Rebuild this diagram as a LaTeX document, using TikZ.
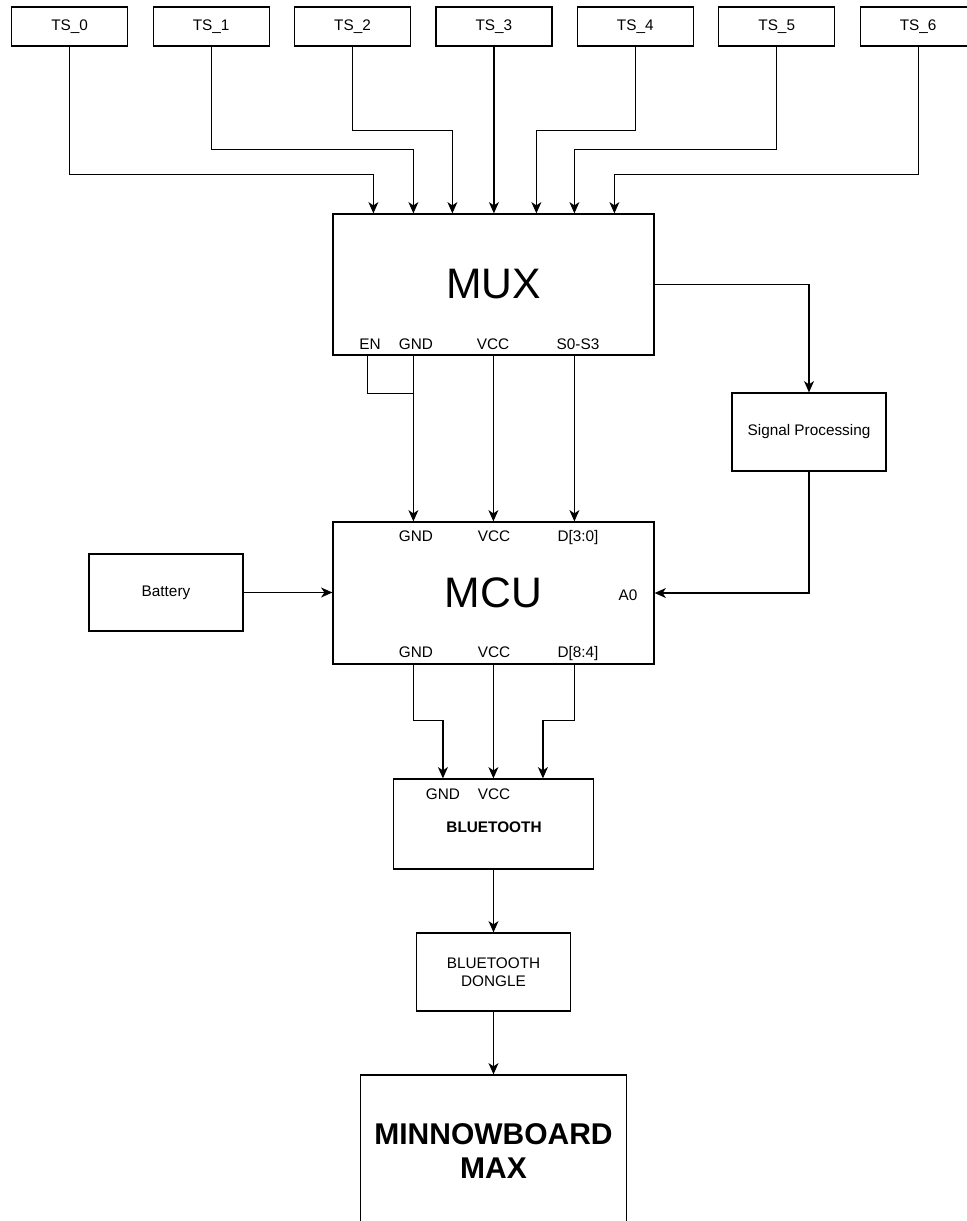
\documentclass[tikz,border=0pt]{standalone}
\usepackage{fontspec}
\setmainfont{Liberation Sans}
\usetikzlibrary{arrows.meta,calc}
\begin{document}
\begin{tikzpicture}[x=0.75pt,y=-0.75pt,
 box/.style={draw,line width=0.9pt,inner sep=0pt,align=center,font=\fontsize{11.5}{13.5}\selectfont},
 lbl/.style={inner sep=0pt,anchor=base,font=\fontsize{11.5}{13.5}\selectfont},
 arr/.style={line width=0.9pt,-{Stealth[length=8.5pt,width=7.5pt,inset=2.5pt]}},
 wire/.style={line width=0.9pt}]
\useasboundingbox (0,0) rectangle (967,1221);
\clip (0,0) rectangle (967,1221);
% sensor boxes
\foreach \i in {0,...,6}
  \node[box,minimum width=87pt,minimum height=29.25pt] (ts\i) at ({69.7+141.4*\i},26.5) {TS\_\i};
% main blocks
\node[box,minimum width=240.75pt,minimum height=105.75pt,font=\fontsize{32}{36}\selectfont] (mux) at (493.5,284.5) {MUX};
\node[box,minimum width=240.75pt,minimum height=106.5pt,font=\fontsize{32}{36}\selectfont] (mcu) at (493.5,593) {MCU};
\node[box,minimum width=115.5pt,minimum height=58.5pt] (sp) at (809,432) {Signal Processing};
\node[box,minimum width=115.5pt,minimum height=57.75pt] (bat) at (166,592.5) {Battery};
\node[box,minimum width=150pt,minimum height=67.5pt] (bt) at (493.5,824) {};
\node[box,minimum width=115.5pt,minimum height=58.5pt] (dongle) at (493.5,972) {BLUETOOTH\\DONGLE};
\node[box,minimum width=199.5pt,minimum height=114pt,font=\fontsize{22.5}{25.5}\selectfont\bfseries] (minnow) at (493.5,1151) {MINNOWBOARD\\MAX};
% port labels
\node[lbl] (muxen) at (370,349.5) {EN};
\node[lbl] (muxgnd) at (416,349.5) {GND};
\node[lbl] (muxvcc) at (493,349.5) {VCC};
\node[lbl] (muxsel) at (578,349.5) {S0-S3};
\node[lbl] (mcugnd1) at (416,541.5) {GND};
\node[lbl] (mcuvcc1) at (494,541.5) {VCC};
\node[lbl] (mcud1) at (578,541.5) {D[3:0]};
\node[lbl] (mcua0) at (628,600.5) {A0};
\node[lbl] (mcugnd2) at (416,657.5) {GND};
\node[lbl] (mcuvcc2) at (494,657.5) {VCC};
\node[lbl] (mcud2) at (578,657.5) {D[8:4]};
\node[lbl] (btgnd) at (443,799.5) {GND};
\node[lbl] (btvcc) at (494,799.5) {VCC};
\node[lbl,font=\fontsize{11.5}{13.5}\selectfont\bfseries] (btname) at (494,832.5) {BLUETOOTH};
% sensors to MUX
\draw[arr] (ts0.south) -- ++(0,128) -| ($(mux.north west)+(41,0)$);
\draw[arr] (ts1.south) -- ++(0,103) -| ($(mux.north west)+(81,0)$);
\draw[arr] (ts2.south) -- ++(0,84) -| ($(mux.north west)+(120,0)$);
\draw[arr] (ts3.south) -- (ts3.south |- mux.north);
\draw[arr] (ts4.south) -- ++(0,84) -| ($(mux.north west)+(204,0)$);
\draw[arr] (ts5.south) -- ++(0,103) -| ($(mux.north west)+(242,0)$);
\draw[arr] (ts6.south) -- ++(0,128) -| ($(mux.north west)+(282,0)$);
% MUX to MCU
\draw[wire] ($(mux.south west)+(35,0)$) |- ($(mux.south west)+(81,38)$);
\draw[arr] ($(mux.south west)+(81,0)$) -- ($(mcu.north west)+(81,0)$);
\draw[arr] ($(mux.south west)+(161,0)$) -- ($(mcu.north west)+(161,0)$);
\draw[arr] ($(mux.south west)+(242,0)$) -- ($(mcu.north west)+(242,0)$);
% signal path
\draw[arr] (mux.east) -| (sp.north);
\draw[arr] (sp.south) |- (mcu.east);
\draw[arr] (bat.east) -- (bat.east -| mcu.west);
% MCU to bluetooth
\draw[arr] ($(mcu.south west)+(81,0)$) -- ++(0,56) -| ($(bt.north west)+(50,0)$);
\draw[arr] ($(mcu.south west)+(161,0)$) -- ($(bt.north west)+(100.5,0)$);
\draw[arr] ($(mcu.south west)+(242,0)$) -- ++(0,56) -| ($(bt.north west)+(150,0)$);
\draw[arr] (bt.south) -- (dongle.north);
\draw[arr] (dongle.south) -- (minnow.north);
\end{tikzpicture}
\end{document}
